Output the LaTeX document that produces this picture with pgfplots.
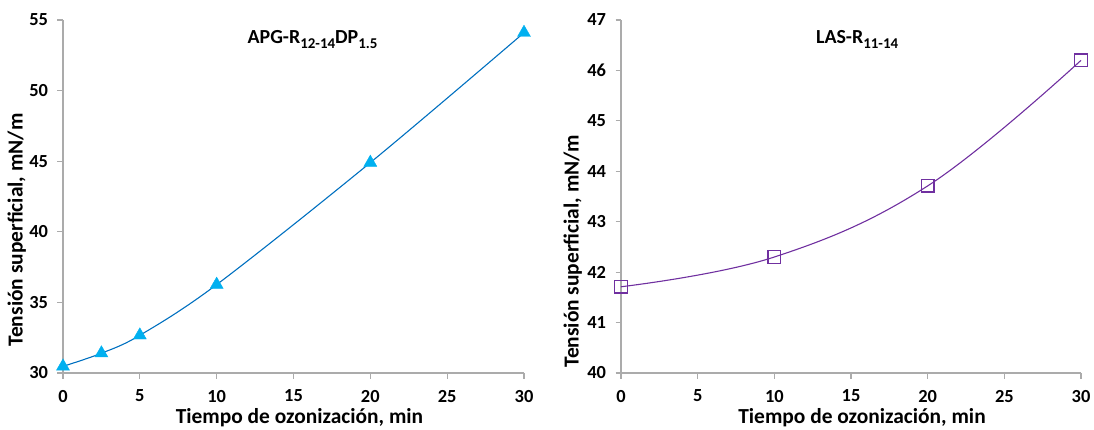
\documentclass[border=0pt]{standalone}
\usepackage{pgfplots}
\pgfplotsset{compat=1.18}
\usepackage{fontspec}
\setmainfont{Carlito}
\definecolor{axgray}{HTML}{ABABAB}
\definecolor{lblue}{HTML}{0070C0}
\definecolor{tcyan}{HTML}{00B0F0}
\definecolor{purp}{HTML}{7030A0}
\newcommand{\sub}[1]{\raisebox{-0.28em}{\fontsize{15}{15}\selectfont #1}}
\pgfplotsset{
  myax/.style={
    scale only axis,
    width=461bp, height=353bp,
    axis x line*=bottom, axis y line*=left,
    axis line style={axgray, line width=1.1bp, -},
    tick style={axgray, line width=1.1bp},
    tick align=outside,
    major tick length=5.5bp,
    xmin=0, xmax=30,
    xtick={0,5,10,15,20,25,30},
    /pgf/number format/assume math mode=true,
    ticklabel style={font=\bfseries\fontsize{18.5}{18.5}\selectfont},
    xticklabel style={yshift=-8bp},
    yticklabel style={xshift=-6bp},
    xlabel={\bfseries\fontsize{21.5}{21.5}\selectfont Tiempo de ozonización, min},
    ylabel={\bfseries\fontsize{21.5}{21.5}\selectfont Tensión superficial, mN/m},
    clip=false,
  }
}
\begin{document}
\begin{tikzpicture}
\begin{axis}[myax, at={(63bp,57bp)}, anchor=south west,
  ymin=30, ymax=55, ytick={30,35,40,45,50,55},
  xlabel style={at={(axis description cs:0.513,-0.142)}, anchor=base},
  ylabel style={at={(axis description cs:-0.100,0.405)}, anchor=center}]
\addplot[lblue, line width=1.1bp, smooth, tension=0.55] coordinates {
(0,30.47) (2.5,31.4) (5,32.67) (10,36.26) (20,44.9) (30,54.1)};
\addplot[only marks, mark=triangle*, mark size=7.5bp, color=tcyan] coordinates {
(0,30.47) (2.5,31.4) (5,32.67) (10,36.26) (20,44.9) (30,54.1)};
\node[font=\bfseries\fontsize{20}{20}\selectfont, anchor=base] at (axis cs:16.24,53.37) {APG-R\sub{12-14}DP\sub{1.5}};
\end{axis}
\begin{axis}[myax, width=460bp, at={(621bp,57bp)}, anchor=south west,
  ymin=40, ymax=47, ytick={40,41,42,43,44,45,46,47},
  xlabel style={at={(axis description cs:0.524,-0.142)}, anchor=base},
  ylabel style={at={(axis description cs:-0.105,0.345)}, anchor=center}]
\addplot[purp, line width=1.1bp, smooth, tension=0.65] coordinates {
(0,41.71) (10,42.3) (20,43.71) (30,46.2)};
\addplot[only marks, mark=square, mark size=6.3bp, color=purp, mark options={line width=1.5bp}] coordinates {
(0,41.71) (10,42.3) (20,43.71) (30,46.2)};
\node[font=\bfseries\fontsize{20}{20}\selectfont, anchor=base] at (axis cs:15.4,46.54) {LAS-R\sub{11-14}};
\end{axis}
\pgfresetboundingbox
\useasboundingbox (0,0) rectangle (1094bp,430bp);
\end{tikzpicture}
\end{document}
